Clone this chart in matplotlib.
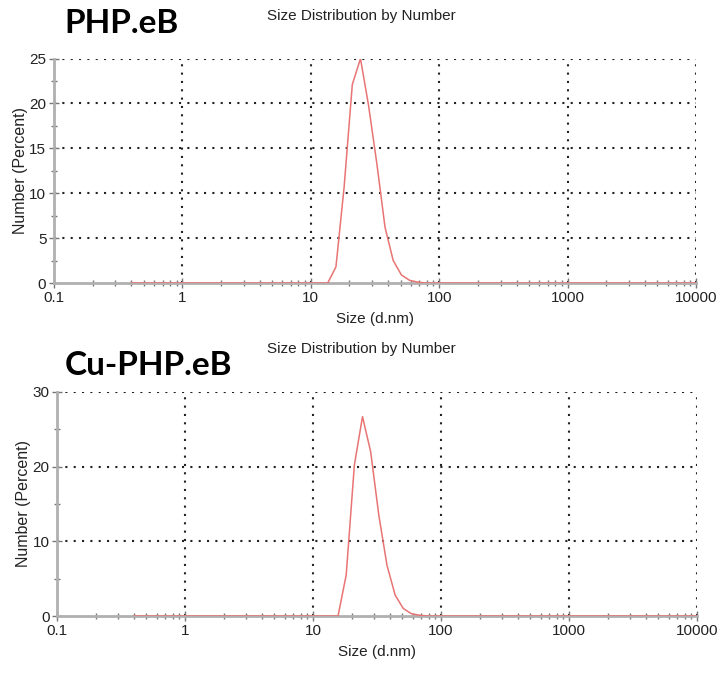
import matplotlib.pyplot as plt
from matplotlib.ticker import LogLocator, MultipleLocator, NullFormatter

# Zetasizer size bins (d.nm)
sizes = [0.4, 0.4632, 0.5365, 0.6213, 0.7195, 0.8332, 0.9649, 1.117, 1.294, 1.499,
         1.736, 2.010, 2.328, 2.696, 3.122, 3.615, 4.187, 4.849, 5.615, 6.503,
         7.531, 8.721, 10.10, 11.70, 13.54, 15.69, 18.17, 21.04, 24.36, 28.21,
         32.67, 37.84, 43.82, 50.75, 58.77, 68.06, 78.82, 91.28, 105.7, 122.4,
         141.8, 164.2, 190.1, 220.2, 255.0, 295.3, 342.0, 396.1, 458.7, 531.2,
         615.1, 712.4, 825.0, 955.4, 1106, 1281, 1484, 1718, 1990, 2305,
         2669, 3091, 3580, 4145, 4801, 5560, 6439, 7456, 8635, 10000]

# Number (%) per bin
php_eb = [0, 0, 0, 0, 0, 0, 0, 0, 0, 0,
          0, 0, 0, 0, 0, 0, 0, 0, 0, 0,
          0, 0, 0, 0, 0, 1.8, 10.7, 22.1, 25.0, 19.7,
          13.3, 6.2, 2.5, 0.9, 0.3, 0.1, 0, 0, 0, 0,
          0, 0, 0, 0, 0, 0, 0, 0, 0, 0,
          0, 0, 0, 0, 0, 0, 0, 0, 0, 0,
          0, 0, 0, 0, 0, 0, 0, 0, 0, 0]

cu_php_eb = [0, 0, 0, 0, 0, 0, 0, 0, 0, 0,
             0, 0, 0, 0, 0, 0, 0, 0, 0, 0,
             0, 0, 0, 0, 0, 0, 5.5, 20.2, 26.7, 22.0,
             13.5, 6.8, 2.8, 1.0, 0.3, 0.1, 0, 0, 0, 0,
             0, 0, 0, 0, 0, 0, 0, 0, 0, 0,
             0, 0, 0, 0, 0, 0, 0, 0, 0, 0,
             0, 0, 0, 0, 0, 0, 0, 0, 0, 0]

xticks = [0.1, 1, 10, 100, 1000, 10000]
xticklabels = ['0.1', '1', '10', '100', '1000', '10000']

plt.rcParams['font.family'] = ['Liberation Sans', 'DejaVu Sans']

fig = plt.figure(figsize=(7.19, 6.75), dpi=100)
ax1 = fig.add_axes([0.0751, 0.5807, 0.893, 0.3326])
ax2 = fig.add_axes([0.0793, 0.0874, 0.8901, 0.3319])

spine_c = '#b0b0b0'
grid_kw = dict(color='#222222', linestyle=(0, (1, 3)), linewidth=1.5)


def style(ax, y, ymax, ystep):
    ax.plot(sizes, y, color='#e87474', linewidth=1.1, zorder=3)
    ax.set_xscale('log')
    ax.set_xlim(0.1, 10000)
    ax.set_ylim(0, ymax)
    ax.set_xticks(xticks)
    ax.set_xticklabels(xticklabels)
    ax.xaxis.set_minor_locator(LogLocator(base=10, subs=range(2, 10), numticks=20))
    ax.xaxis.set_minor_formatter(NullFormatter())
    ax.yaxis.set_major_locator(MultipleLocator(ystep))
    ax.yaxis.set_minor_locator(MultipleLocator(ystep / 2))
    for s in ['top', 'right']:
        ax.spines[s].set_visible(False)
    for s in ['left', 'bottom']:
        ax.spines[s].set_color(spine_c)
        ax.spines[s].set_linewidth(2)
    ax.tick_params(which='both', direction='inout', color='#777777', width=1,
                   labelsize=11, labelcolor='#222222', pad=2)
    ax.tick_params(which='major', length=7)
    ax.tick_params(which='minor', length=5)
    for v in xticks[1:]:
        ax.axvline(v, **grid_kw, zorder=1)
    yv = ystep
    while yv <= ymax + 1e-9:
        ax.axhline(yv, **grid_kw, zorder=1)
        yv += ystep
    ax.set_xlabel('Size (d.nm)', fontsize=11, color='#222222', labelpad=5)
    ax.set_ylabel('Number (Percent)', fontsize=11.5, color='#222222', labelpad=1)
    ax.set_facecolor('white')


style(ax1, php_eb, 25, 5)
style(ax2, cu_php_eb, 30, 10)

fig.text(0.503, 0.977, 'Size Distribution by Number', ha='center', va='center',
         fontsize=11, color='#222222')
fig.text(0.503, 0.483, 'Size Distribution by Number', ha='center', va='center',
         fontsize=11, color='#222222')
fig.text(0.09, 0.965, 'PHP.eB', ha='left', va='center', fontsize=24,
         fontweight='bold', family=['Lato', 'DejaVu Sans'])
fig.text(0.09, 0.458, 'Cu-PHP.eB', ha='left', va='center', fontsize=24,
         fontweight='bold', family=['Lato', 'DejaVu Sans'])

fig.savefig('out.png', dpi=100, facecolor='white')
